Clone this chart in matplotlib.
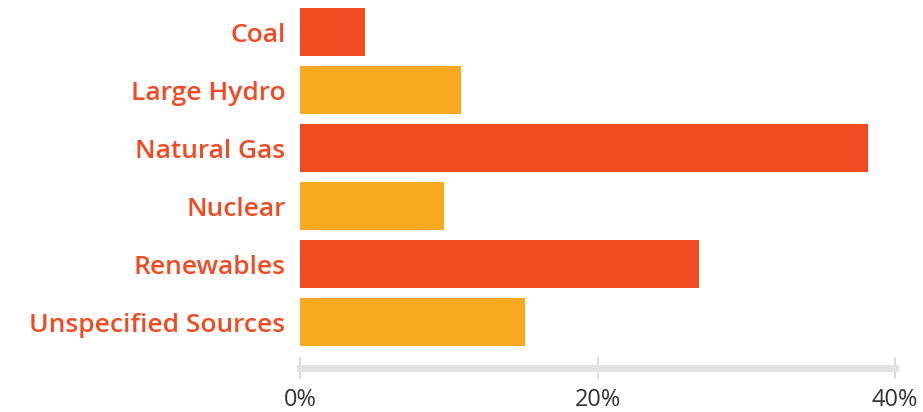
import numpy as np
import matplotlib
matplotlib.use('Agg')
import matplotlib.pyplot as plt
from matplotlib.ticker import FuncFormatter

sources = ['Coal', 'Large Hydro', 'Natural Gas', 'Nuclear', 'Renewables', 'Unspecified Sources']
shares = [4.4, 10.8, 38.2, 9.7, 26.8, 15.1]

red = '#F04B23'
yellow = '#F9A91E'
colors = [red, yellow, red, yellow, red, yellow]

plt.rcParams['font.family'] = ['Open Sans', 'DejaVu Sans']

fig = plt.figure(figsize=(9.23, 4.12), dpi=100)
ax = fig.add_axes([300 / 923, 1 - 368 / 412, 595 / 923, 365 / 412])

y_pos = np.arange(len(sources))
ax.barh(y_pos, shares, height=0.83, color=colors)

ax.set_xlim(0, 40)
ax.set_ylim(5.79, -0.5)
ax.set_yticks(y_pos, sources)
ax.set_xticks([0, 20, 40])
ax.xaxis.set_major_formatter(FuncFormatter(lambda v, p: f'{v:.0f}%'))

for s in ['top', 'right', 'left']:
    ax.spines[s].set_visible(False)
ax.spines['bottom'].set_color('#e2e2e4')
ax.spines['bottom'].set_linewidth(5.0)

ax.tick_params(axis='y', length=0, pad=10.5, labelsize=19, labelcolor=red)
for lbl in ax.get_yticklabels():
    lbl.set_fontweight('semibold')
ax.tick_params(axis='x', direction='inout', length=16.5, width=1.5, color='#dcdcdc',
               labelsize=17, labelcolor='#333333', pad=6)

fig.savefig('out.png', dpi=100)
